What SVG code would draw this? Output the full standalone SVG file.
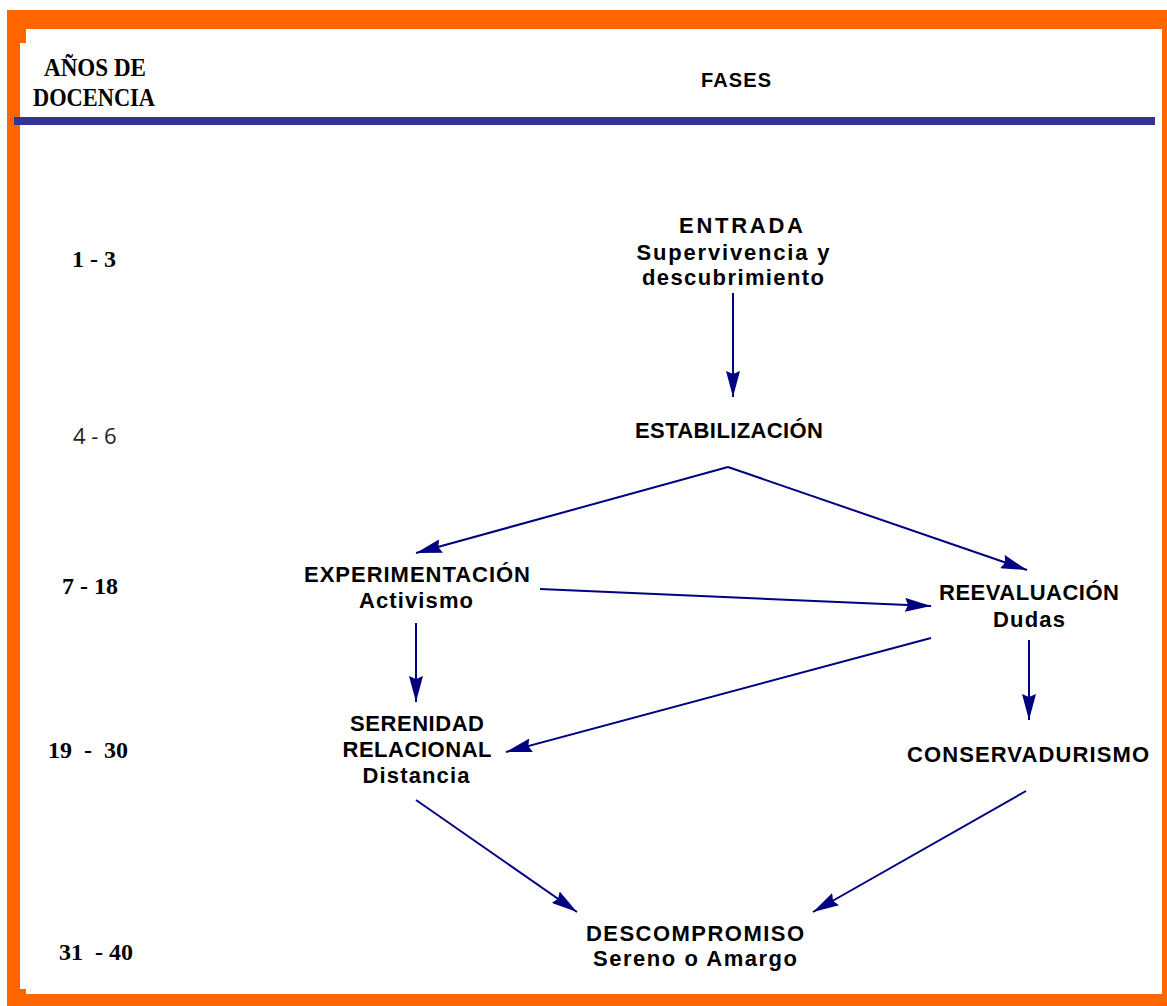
<svg xmlns="http://www.w3.org/2000/svg" width="1167" height="1006" viewBox="0 0 1167 1006">
<defs>
<style>
.frame{fill:#FF6600}
.yr{font-family:"Liberation Serif","Times New Roman",serif;font-weight:bold;font-size:24px;fill:#000}
.yr2{font-family:"Open Sans","Noto Sans",sans-serif;font-size:22px;fill:#222}
.lb{font-family:"Liberation Sans",Arial,sans-serif;font-weight:bold;font-size:22px;fill:#000;text-anchor:middle}
.cn line{stroke:#000080;stroke-width:2;fill:none}
.cn .a{marker-end:url(#ah)}
</style>
<marker id="ah" viewBox="0 0 26 14" refX="26" refY="7" markerWidth="26" markerHeight="14" markerUnits="userSpaceOnUse" orient="auto">
<path d="M0,0 L26,7 L0,14 L3,7 z" fill="#000080"/>
</marker>
</defs>
<rect width="1167" height="1006" fill="#fff"/>
<g id="frame">
<rect class="frame" x="7" y="10" width="1160" height="19"/>
<rect class="frame" x="7" y="10" width="13" height="996"/>
<rect class="frame" x="7" y="10" width="19" height="33"/>
<rect class="frame" x="7" y="989" width="19" height="17"/>
<rect class="frame" x="7" y="994" width="1160" height="12"/>
<rect class="frame" x="1162" y="10" width="5" height="996"/>
<rect x="14" y="117" width="1141" height="8" fill="#333399"/>
</g>
<g id="header">
<text class="yr" x="44" y="76" textLength="102" lengthAdjust="spacingAndGlyphs" style="font-size:26px">AÑOS DE</text>
<text class="yr" x="33" y="106" textLength="122" lengthAdjust="spacingAndGlyphs" style="font-size:26px">DOCENCIA</text>
<text class="lb" x="736" y="87" textLength="70" style="font-size:20px">FASES</text>
</g>
<g id="years">
<text class="yr" x="72" y="267">1 - 3</text>
<text class="yr2" x="73" y="444">4 - 6</text>
<text class="yr" x="62" y="594">7 - 18</text>
<text class="yr" x="48" y="758" style="word-spacing:6px">19 - 30</text>
<text class="yr" x="59" y="960" xml:space="preserve">31  - 40</text>
</g>
<g id="entrada">
<text class="lb" x="741" y="233" textLength="124">ENTRADA</text>
<text class="lb" x="733" y="260" textLength="193">Supervivencia y</text>
<text class="lb" x="733" y="285" textLength="182">descubrimiento</text>
</g>
<g id="estabilizacion">
<text class="lb" x="729" y="438" textLength="188">ESTABILIZACIÓN</text>
</g>
<g id="experimentacion">
<text class="lb" x="417" y="582" textLength="226">EXPERIMENTACIÓN</text>
<text class="lb" x="416" y="608" textLength="114">Activismo</text>
</g>
<g id="reevaluacion">
<text class="lb" x="1029" y="600" textLength="180">REEVALUACIÓN</text>
<text class="lb" x="1029" y="627" textLength="72">Dudas</text>
</g>
<g id="serenidad">
<text class="lb" x="417" y="731" textLength="134">SERENIDAD</text>
<text class="lb" x="417" y="757" textLength="149">RELACIONAL</text>
<text class="lb" x="416" y="783" textLength="107">Distancia</text>
</g>
<g id="conservadurismo">
<text class="lb" x="1028" y="762" textLength="242">CONSERVADURISMO</text>
</g>
<g id="descompromiso">
<text class="lb" x="695" y="941" textLength="218">DESCOMPROMISO</text>
<text class="lb" x="695" y="966" textLength="204">Sereno o Amargo</text>
</g>
<g id="connectors" class="cn">
<line class="a" x1="733" y1="293" x2="733" y2="397"/>
<line class="a" x1="728" y1="467" x2="416" y2="553"/>
<line class="a" x1="728" y1="467" x2="1027" y2="570"/>
<line class="a" x1="540" y1="589" x2="931" y2="606"/>
<line class="a" x1="931" y1="638" x2="506" y2="752"/>
<line class="a" x1="416" y1="623" x2="416" y2="702"/>
<line class="a" x1="1029" y1="640" x2="1029" y2="720"/>
<line class="a" x1="416" y1="800" x2="577" y2="912"/>
<line class="a" x1="1026" y1="791" x2="813" y2="912"/>
</g>
</svg>
